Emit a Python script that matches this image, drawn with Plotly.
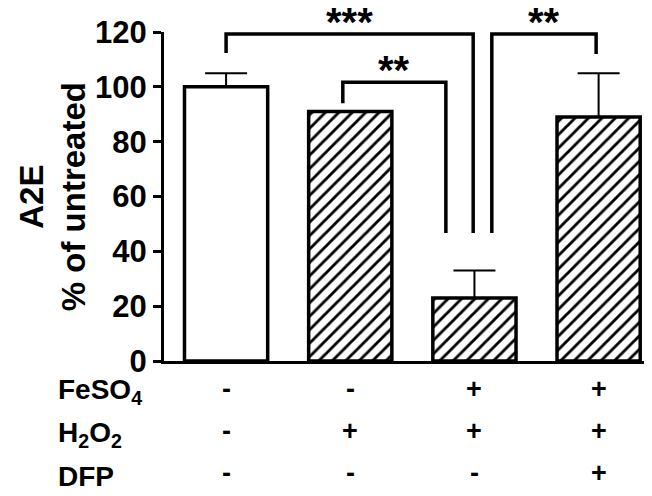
import plotly.graph_objects as go

# ---- data ----
categories = ["untreated", "H2O2", "FeSO4+H2O2", "FeSO4+H2O2+DFP"]
a2e_values = [100, 91, 23, 89]
a2e_errors = [5, None, 10, 16]
bar_hatched = [False, True, True, True]

row_labels = ["FeSO<sub>4</sub>", "H<sub>2</sub>O<sub>2</sub>", "DFP"]
feso4_signs = ["-", "-", "+", "+"]
h2o2_signs = ["-", "+", "+", "+"]
dfp_signs = ["-", "-", "-", "+"]

y_ticks = [0, 20, 40, 60, 80, 100, 120]

# significance brackets (category index units / data values)
bracket_left_x = [0.0, 0.94, 2.14]
bracket_right_x = [1.99, 1.77, 2.98]
bracket_top = [119.3, 101.7, 119.3]
bracket_left_bottom = [112.3, 94.0, 46.7]
bracket_right_bottom = [46.7, 46.7, 112.0]
bracket_labels = ["***", "**", "**"]

FONT = "Liberation Sans, Arial, Helvetica, sans-serif"

x_idx = list(range(len(categories)))

fig = go.Figure()
fig.add_trace(go.Bar(
    x=x_idx,
    y=a2e_values,
    width=0.67,
    marker=dict(
        color="white",
        line=dict(color="black", width=3.5),
        pattern=dict(
            shape=["/" if h else "" for h in bar_hatched],
            fgcolor="black",
            bgcolor="white",
            fgopacity=1,
            size=9.5,
            solidity=0.3,
        ),
    ),
    error_y=dict(
        type="data",
        symmetric=False,
        array=a2e_errors,
        arrayminus=[0 if e is not None else None for e in a2e_errors],
        color="black",
        thickness=2,
        width=21,
    ),
    showlegend=False,
))

# brackets
for i in range(len(bracket_labels)):
    fig.add_trace(go.Scatter(
        x=[bracket_left_x[i], bracket_left_x[i], bracket_right_x[i], bracket_right_x[i]],
        y=[bracket_left_bottom[i], bracket_top[i], bracket_top[i], bracket_right_bottom[i]],
        mode="lines",
        line=dict(color="black", width=3.5),
        showlegend=False,
        hoverinfo="skip",
    ))
    fig.add_annotation(
        x=(bracket_left_x[i] + bracket_right_x[i]) / 2,
        y=bracket_top[i],
        xref="x", yref="y",
        text=bracket_labels[i],
        showarrow=False,
        yanchor="middle",
        yshift=12,
        font=dict(family=FONT, size=40, color="black", weight="bold"),
    )

# treatment table below the axis
row_y = [-0.094, -0.222, -0.350]
sign_rows = [feso4_signs, h2o2_signs, dfp_signs]
for r, lab in enumerate(row_labels):
    fig.add_annotation(
        x=-0.221, y=row_y[r], xref="paper", yref="paper",
        text=lab, showarrow=False, xanchor="left", yanchor="middle",
        font=dict(family=FONT, size=28, color="black", weight="bold"),
    )
    for c, s in enumerate(sign_rows[r]):
        fig.add_annotation(
            x=x_idx[c], y=row_y[r], xref="x", yref="paper",
            text=s, showarrow=False, xanchor="center", yanchor="middle",
            yshift=3,
            font=dict(family=FONT, size=27, color="black", weight="bold"),
        )

# y-axis titles
fig.add_annotation(
    x=-0.272, y=0.5, xref="paper", yref="paper", text="A2E",
    textangle=-90, showarrow=False, xanchor="center", yanchor="middle",
    font=dict(family=FONT, size=33, color="black", weight="bold"),
)
fig.add_annotation(
    x=-0.185, y=0.5, xref="paper", yref="paper", text="% of untreated",
    textangle=-90, showarrow=False, xanchor="center", yanchor="middle",
    font=dict(family=FONT, size=33, color="black", weight="bold"),
)

# the page body adds an 8px offset; size the figure so the plot lands where the reference has it
fig.update_layout(
    width=644, height=488,
    margin=dict(l=156, r=0, t=24, b=135),
    paper_bgcolor="white", plot_bgcolor="white",
    font=dict(family=FONT, color="black"),
    xaxis=dict(
        range=[-0.5, 3.43],
        showticklabels=False, ticks="", showgrid=False, zeroline=False,
        showline=True, linecolor="black", linewidth=3,
    ),
    yaxis=dict(
        range=[0, 120],
        tickvals=y_ticks,
        ticks="outside", ticklen=8, tickwidth=3, tickcolor="black",
        tickfont=dict(family=FONT, size=31, color="black", weight="bold"),
        showgrid=False, zeroline=False,
        showline=True, linecolor="black", linewidth=3,
    ),
)

fig.write_html("out.html")
